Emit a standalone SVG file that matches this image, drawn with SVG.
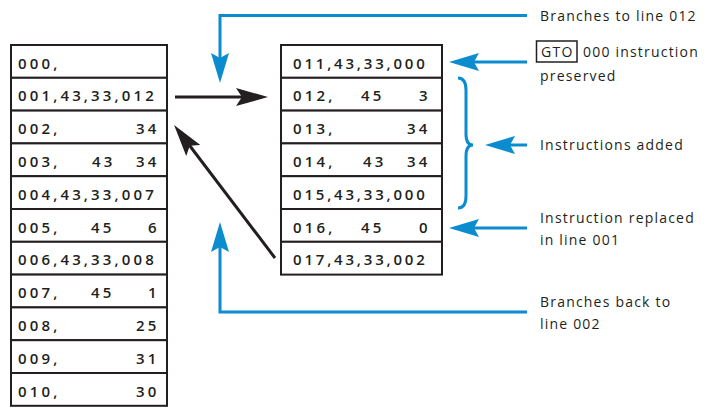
<svg xmlns="http://www.w3.org/2000/svg" width="707" height="408" viewBox="0 0 707 408">
<style>
.cell{fill:#fff;stroke:#231f20;stroke-width:2}
.t{font-family:"Open Sans","DejaVu Sans",sans-serif;font-size:15px;font-weight:600;fill:#231f20;letter-spacing:3.2px}
.lbl{font-family:"Open Sans","DejaVu Sans",sans-serif;font-size:14px;fill:#231f20;letter-spacing:1.2px}
.blue{fill:none;stroke:#0a8ccf;stroke-width:3}
.black{fill:none;stroke:#231f20;stroke-width:3}
</style>
<defs>
<marker id="ab" markerUnits="userSpaceOnUse" viewBox="0 0 30 18" markerWidth="30" markerHeight="18" refX="20" refY="9" orient="auto">
<path d="M30,9 L0,0 L5,9 L0,18 Z" fill="#0a8ccf"/>
</marker>
<marker id="ak" markerUnits="userSpaceOnUse" viewBox="0 0 32 18" markerWidth="32" markerHeight="18" refX="22" refY="9" orient="auto">
<path d="M32,9 L0,0 L6,9 L0,18 Z" fill="#231f20"/>
</marker>
</defs>

<g id="left-table">
<g id="r000"><rect class="cell" x="11" y="45" width="156" height="32.8"/><text class="t" x="18" y="68.5">000,</text></g>
<g id="r001"><rect class="cell" x="11" y="77.8" width="156" height="32.8"/><text class="t" x="18" y="101.3" textLength="139" lengthAdjust="spacing">001,43,33,012</text></g>
<g id="r002"><rect class="cell" x="11" y="110.6" width="156" height="32.8"/><text class="t" x="18" y="134.1">002,</text><text class="t" x="136" y="134.1">34</text></g>
<g id="r003"><rect class="cell" x="11" y="143.4" width="156" height="32.8"/><text class="t" x="18" y="166.9">003,</text><text class="t" x="92" y="166.9">43</text><text class="t" x="136" y="166.9">34</text></g>
<g id="r004"><rect class="cell" x="11" y="176.2" width="156" height="32.8"/><text class="t" x="18" y="199.7" textLength="139" lengthAdjust="spacing">004,43,33,007</text></g>
<g id="r005"><rect class="cell" x="11" y="209" width="156" height="32.8"/><text class="t" x="18" y="232.5">005,</text><text class="t" x="91" y="232.5">45</text><text class="t" x="148" y="232.5">6</text></g>
<g id="r006"><rect class="cell" x="11" y="241.8" width="156" height="32.8"/><text class="t" x="18" y="265.3" textLength="139" lengthAdjust="spacing">006,43,33,008</text></g>
<g id="r007"><rect class="cell" x="11" y="274.6" width="156" height="32.8"/><text class="t" x="18" y="298.1">007,</text><text class="t" x="91" y="298.1">45</text><text class="t" x="148" y="298.1">1</text></g>
<g id="r008"><rect class="cell" x="11" y="307.4" width="156" height="32.8"/><text class="t" x="18" y="330.9">008,</text><text class="t" x="136" y="330.9">25</text></g>
<g id="r009"><rect class="cell" x="11" y="340.2" width="156" height="32.8"/><text class="t" x="18" y="363.7">009,</text><text class="t" x="136" y="363.7">31</text></g>
<g id="r010"><rect class="cell" x="11" y="373" width="156" height="32.8"/><text class="t" x="18" y="396.5">010,</text><text class="t" x="136" y="396.5">30</text></g>
</g>

<g id="right-table">
<g id="r011"><rect class="cell" x="281" y="45" width="161" height="32.8"/><text class="t" x="293" y="68.5" textLength="135" lengthAdjust="spacing">011,43,33,000</text></g>
<g id="r012"><rect class="cell" x="281" y="77.8" width="161" height="32.8"/><text class="t" x="293" y="101.3">012,</text><text class="t" x="361" y="101.3">45</text><text class="t" x="419" y="101.3">3</text></g>
<g id="r013"><rect class="cell" x="281" y="110.6" width="161" height="32.8"/><text class="t" x="293" y="134.1">013,</text><text class="t" x="407" y="134.1">34</text></g>
<g id="r014"><rect class="cell" x="281" y="143.4" width="161" height="32.8"/><text class="t" x="293" y="166.9">014,</text><text class="t" x="363" y="166.9">43</text><text class="t" x="407" y="166.9">34</text></g>
<g id="r015"><rect class="cell" x="281" y="176.2" width="161" height="32.8"/><text class="t" x="293" y="199.7" textLength="135" lengthAdjust="spacing">015,43,33,000</text></g>
<g id="r016"><rect class="cell" x="281" y="209" width="161" height="32.8"/><text class="t" x="293" y="232.5">016,</text><text class="t" x="361" y="232.5">45</text><text class="t" x="419" y="232.5">0</text></g>
<g id="r017"><rect class="cell" x="281" y="241.8" width="161" height="32.8"/><text class="t" x="293" y="265.3" textLength="135" lengthAdjust="spacing">017,43,33,002</text></g>
</g>

<g id="labels">
<g id="lbl-branches-012"><text class="lbl" x="540" y="21">Branches to line 012</text></g>
<g id="lbl-gto"><rect x="536.5" y="41" width="40.5" height="21" fill="none" stroke="#231f20" stroke-width="1.5"/><text class="lbl" x="557.3" y="57" text-anchor="middle">GTO</text><text class="lbl" x="583" y="57">000 instruction</text><text class="lbl" x="540" y="81">preserved</text></g>
<g id="lbl-added"><text class="lbl" x="540" y="150">Instructions added</text></g>
<g id="lbl-replaced"><text class="lbl" x="540" y="223">Instruction replaced</text><text class="lbl" x="540" y="245">in line 001</text></g>
<g id="lbl-back"><text class="lbl" x="540" y="307">Branches back to</text><text class="lbl" x="540" y="329">line 002</text></g>
</g>

<g id="connectors">
<path class="blue" d="M527,15.5 H220 V73" marker-end="url(#ab)"/>
<path class="blue" d="M527,62 H459" marker-end="url(#ab)"/>
<path class="blue" d="M527,145 H495" marker-end="url(#ab)"/>
<path class="blue" d="M527,228 H459" marker-end="url(#ab)"/>
<path class="blue" d="M527,312 H220 V232" marker-end="url(#ab)"/>
<path class="blue" d="M458,78 Q466,78 466,90 L466,134 Q466,145 473,145 Q466,145 466,156 L466,196 Q466,208 458,208"/>
<path class="black" d="M175,97 H258" marker-end="url(#ak)"/>
<path class="black" d="M275,258 L180.1,133" marker-end="url(#ak)"/>
</g>
</svg>
